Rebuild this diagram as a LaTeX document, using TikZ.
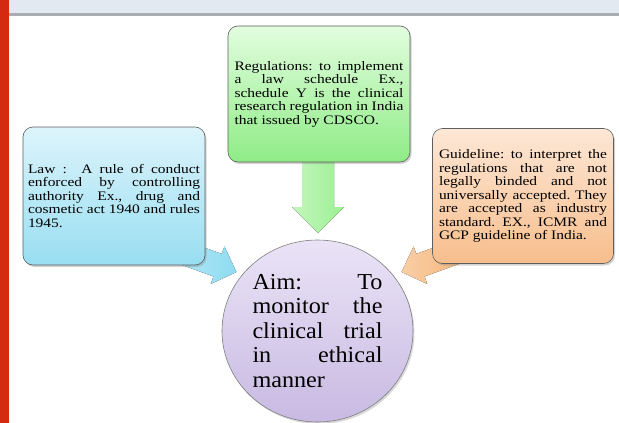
\documentclass[tikz,border=0pt]{standalone}
\usepackage{fontspec}
\setmainfont{Liberation Serif}[FakeStretch=1.19]
\newfontfamily\aimfont{Liberation Serif}[FakeStretch=1.06]
\usetikzlibrary{shadows,shapes.geometric}
\hyphenpenalty=10000
\exhyphenpenalty=10000
\frenchspacing
\definecolor{bandcol}{HTML}{E3E9F1}
\definecolor{rulecol}{HTML}{A9ACB0}
\definecolor{redcol}{HTML}{D42A12}
\definecolor{bluetop}{HTML}{DDF4FB}
\definecolor{bluebot}{HTML}{98DEF2}
\definecolor{greentop}{HTML}{E2FDDF}
\definecolor{greenbot}{HTML}{8FEC86}
\definecolor{orangetop}{HTML}{FDE7D6}
\definecolor{orangebot}{HTML}{F7BE8C}
\definecolor{lavtop}{HTML}{EAE3F6}
\definecolor{lavbot}{HTML}{C8BAE2}
\definecolor{boxline}{HTML}{5E5E5E}
\definecolor{bluearr}{HTML}{8FDCF1}
\definecolor{greenarr}{HTML}{9CF093}
\definecolor{orangearr}{HTML}{F6B97F}
\tikzset{
  infobox/.style={rounded corners=10pt, draw=boxline, line width=0.6pt,
    align=justify, inner sep=0pt,
    font=\fontsize{13}{13.5}\selectfont,
    drop shadow={opacity=0.35, shadow xshift=1.5pt, shadow yshift=-2pt}},
  aimcircle/.style={ellipse, draw=boxline!80, line width=0.6pt, inner sep=0pt,
    minimum width=191pt, minimum height=182pt, top color=lavtop, bottom color=lavbot,
    drop shadow={opacity=0.3, shadow xshift=1.5pt, shadow yshift=-2pt}},
  aimtextstyle/.style={text width=130pt, align=justify, inner sep=0pt,
    font=\aimfont\fontsize{22.8}{24.5}\selectfont},
  blockarrow/.style={draw=none}
}
\begin{document}
\hyphenpenalty=10000
\exhyphenpenalty=10000
\frenchspacing
\begin{tikzpicture}[x=1pt,y=-1pt]
\useasboundingbox (0,0) rectangle (619,423);
% header band and left bar
\fill[bandcol] (0,0) rectangle (619,13);
\fill[rulecol] (0,13) rectangle (619,16);
\fill[redcol] (0,0) rectangle (9,423);

% block arrows (behind boxes)
\begin{scope}[shift={(318,150)}, rotate=-90]
  \fill[blockarrow, left color=greenarr!60, right color=greenarr]
    (0,-16) -- (57,-16) -- (57,-26) -- (83,0) -- (57,26) -- (57,16) -- (0,16) -- cycle;
\end{scope}
\begin{scope}[shift={(180,251.5)}, rotate=-20]
  \fill[blockarrow, left color=bluearr!70, right color=bluearr]
    (0,-12) -- (40,-12) -- (40,-20) -- (60,0) -- (40,20) -- (40,12) -- (0,12) -- cycle;
\end{scope}
\begin{scope}[shift={(458,251.5)}, rotate=200]
  \fill[blockarrow, left color=orangearr!70, right color=orangearr]
    (0,-12) -- (40,-12) -- (40,-20) -- (60,0) -- (40,20) -- (40,12) -- (0,12) -- cycle;
\end{scope}

% boxes
\node[infobox, top color=bluetop, bottom color=bluebot,
      minimum width=182pt, minimum height=138pt, text width=172pt] (law) at (114,196)
  {Law : \ A rule of conduct enforced by controlling authority Ex., drug and cosmetic act 1940 and rules 1945.};
\node[infobox, top color=greentop, bottom color=greenbot,
      minimum width=182pt, minimum height=136pt, text width=169pt] (reg) at (319,94)
  {Regulations: to implement a law schedule Ex., schedule Y is the clinical research regulation in India that issued by CDSCO.};
\node[infobox, top color=orangetop, bottom color=orangebot,
      minimum width=181pt, minimum height=135pt, text width=168pt] (guide) at (523,196)
  {Guideline: to interpret the regulations that are not legally binded and not universally accepted. They are accepted as industry standard. EX., ICMR and GCP guideline of India.};

% central circle
\node[aimcircle] (aim) at (317.5,331) {};
\node[aimtextstyle] (aimtext) at (aim.center)
  {Aim: To monitor the clinical trial in ethical manner};
\end{tikzpicture}
\end{document}
